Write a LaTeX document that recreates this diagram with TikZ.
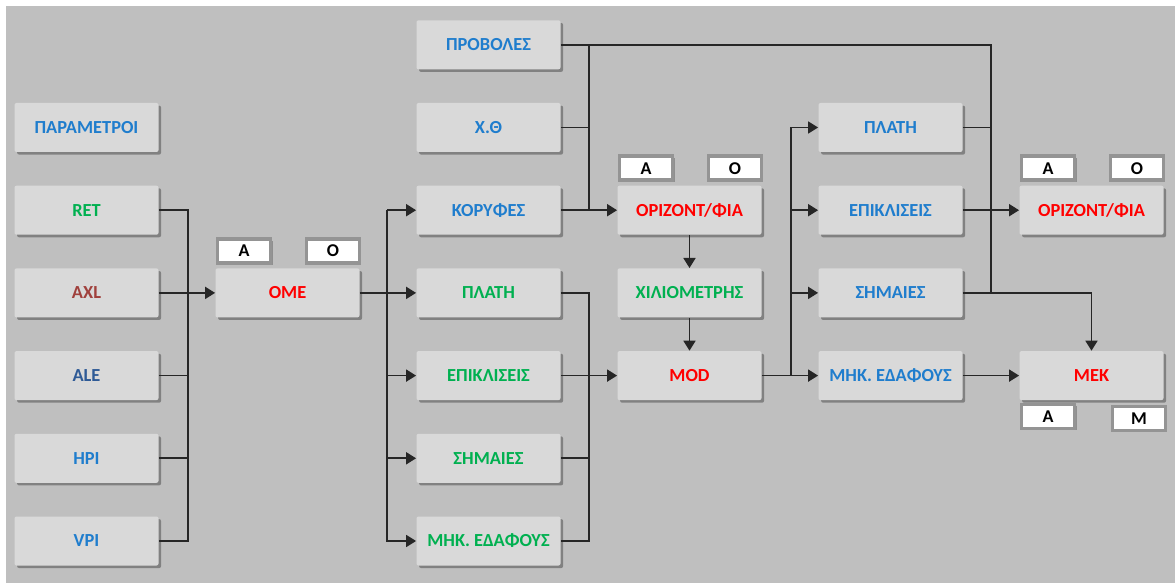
\documentclass[tikz,border=0pt]{standalone}
\usepackage{fontspec}
\setmainfont{Carlito}
\usetikzlibrary{calc,positioning,arrows.meta,shadows}
\definecolor{fond}{RGB}{191,191,191}
\definecolor{boite}{RGB}{217,217,217}
\definecolor{bleu}{RGB}{31,125,205}
\definecolor{vert}{RGB}{0,176,80}
\definecolor{rouge}{RGB}{255,0,0}
\definecolor{brique}{RGB}{160,64,60}
\definecolor{marine}{RGB}{46,90,150}

\begin{document}
\begin{tikzpicture}[x=1pt,y=1pt,node distance=41.35pt]
        \tikzstyle{module} = [rectangle, rounded corners=1pt, minimum width=72pt, minimum height=24.5pt, text centered, fill=boite, font=\fontsize{9.2}{10}\selectfont\bfseries, drop shadow={shadow xshift=1.3pt, shadow yshift=-1.3pt, fill=black, opacity=0.32}]
        \tikzstyle{tag} = [rectangle, minimum width=26.5pt, minimum height=12pt, inner sep=0pt, fill=white, draw=black!42, line width=1.8pt, font=\fontsize{9}{10}\selectfont\bfseries, drop shadow={shadow xshift=1pt, shadow yshift=-1pt, fill=black, opacity=0.25}]
        \tikzstyle{ligne} = [line width=0.9pt, draw=black!85]
        \tikzstyle{fleche} = [ligne, -{Triangle[length=5pt,width=6pt]}]
        \useasboundingbox (0,0) rectangle (587.5,-291.5);
        \fill[white] (0,0) rectangle (587.5,-291.5);
        \fill[fond] (3,-3) rectangle (587.5,-291.5);
        \node (parametroi) [module, text=bleu] at (43.25,-63.75) {ΠΑΡΑΜΕΤΡΟΙ};
        \node (ret) [module, text=vert, below of=parametroi] {RET};
        \node (axl) [module, text=brique, below of=ret] {AXL};
        \node (ale) [module, text=marine, below of=axl] {ALE};
        \node (hpi) [module, text=bleu, below of=ale] {HPI};
        \node (vpi) [module, text=bleu, below of=hpi] {VPI};
        \node (ome) [module, text=rouge, right of=axl, xshift=59.15pt] {OME};
        \node (plath_a) [module, text=vert, right of=ome, xshift=59.15pt] {ΠΛΑΤΗ};
        \node (koryfes) [module, text=bleu, above of=plath_a] {ΚΟΡΥΦΕΣ};
        \node (xth) [module, text=bleu, above of=koryfes] {Χ.Θ};
        \node (provoles) [module, text=bleu, above of=xth] {ΠΡΟΒΟΛΕΣ};
        \node (epikliseis_a) [module, text=vert, below of=plath_a] {ΕΠΙΚΛΙΣΕΙΣ};
        \node (simaies_a) [module, text=vert, below of=epikliseis_a] {ΣΗΜΑΙΕΣ};
        \node (mhk_a) [module, text=vert, below of=simaies_a] {ΜΗΚ. ΕΔΑΦΟΥΣ};
        \node (orizont_a) [module, text=rouge, right of=koryfes, xshift=59.15pt] {ΟΡΙΖΟΝΤ/ΦΙΑ};
        \node (xiliometris) [module, text=vert, below of=orizont_a] {ΧΙΛΙΟΜΕΤΡΗΣ};
        \node (mod) [module, text=rouge, below of=xiliometris] {MOD};
        \node (epikliseis_b) [module, text=bleu, right of=orizont_a, xshift=59.15pt] {ΕΠΙΚΛΙΣΕΙΣ};
        \node (plath_b) [module, text=bleu, above of=epikliseis_b] {ΠΛΑΤΗ};
        \node (simaies_b) [module, text=bleu, below of=epikliseis_b] {ΣΗΜΑΙΕΣ};
        \node (mhk_b) [module, text=bleu, below of=simaies_b] {ΜΗΚ. ΕΔΑΦΟΥΣ};
        \node (orizont_b) [module, text=rouge, right of=epikliseis_b, xshift=59.15pt] {ΟΡΙΖΟΝΤ/ΦΙΑ};
        \node (mek) [module, text=rouge, right of=mhk_b, xshift=59.15pt] {MEK};
        % petites etiquettes
        \node (ome_a) [tag] at ($(ome.north west)+(14.5,8.5)$) {A};
        \node (ome_o) [tag] at ($(ome.north east)+(-13.5,8.5)$) {O};
        \node (orizont_a_a) [tag] at ($(orizont_a.north west)+(14.5,8.5)$) {A};
        \node (orizont_a_o) [tag] at ($(orizont_a.north east)+(-13.5,8.5)$) {O};
        \node (orizont_b_a) [tag] at ($(orizont_b.north west)+(14.5,8.5)$) {A};
        \node (orizont_b_o) [tag] at ($(orizont_b.north east)+(-13.5,8.5)$) {O};
        \node (mek_a) [tag] at ($(mek.south west)+(14.5,-8)$) {A};
        \node (mek_m) [tag] at ($(mek.south east)+(-12.5,-9)$) {M};
        % entrees de OME
        \coordinate (bus_ome) at ($(ret.east)+(14.5,0)$);
        \draw[ligne] (ret.east) -- (bus_ome) |- (vpi.east);
        \draw[ligne] (ale.east) -- (ale.east -| bus_ome);
        \draw[ligne] (hpi.east) -- (hpi.east -| bus_ome);
        \draw[fleche] (axl.east) -- (ome.west);
        % sorties de OME
        \coordinate (bus_c3) at ($(koryfes.west)+(-14.5,0)$);
        \draw[fleche] (ome.east) -- (plath_a.west);
        \draw[fleche] (bus_c3) -- (koryfes.west);
        \draw[fleche] (bus_c3) |- (mhk_a.west);
        \draw[fleche] (epikliseis_a.west -| bus_c3) -- (epikliseis_a.west);
        \draw[fleche] (simaies_a.west -| bus_c3) -- (simaies_a.west);
        % vers ORIZONT/FIA
        \coordinate (bus_prov) at ($(provoles.east)+(14,0)$);
        \coordinate (bus_right) at ($(plath_b.east)+(14,0)$);
        \draw[ligne] (provoles.east) -| (bus_right |- simaies_b.east);
        \draw[ligne] (bus_prov) -- (bus_prov |- koryfes.east);
        \draw[ligne] (xth.east) -- (xth.east -| bus_prov);
        \draw[fleche] (koryfes.east) -- (orizont_a.west);
        \draw[fleche] (orizont_a) -- (xiliometris);
        \draw[fleche] (xiliometris) -- (mod);
        % vers MOD
        \coordinate (bus_mod) at ($(plath_a.east)+(14,0)$);
        \draw[ligne] (plath_a.east) -- (bus_mod) |- (mhk_a.east);
        \draw[ligne] (simaies_a.east) -- (simaies_a.east -| bus_mod);
        \draw[fleche] (epikliseis_a.east) -- (mod.west);
        % sorties de MOD
        \coordinate (bus_c5) at ($(mod.east)+(14.5,0)$);
        \draw[fleche] (mod.east) -- (mhk_b.west);
        \draw[fleche] (bus_c5) |- (plath_b.west);
        \draw[fleche] (epikliseis_b.west -| bus_c5) -- (epikliseis_b.west);
        \draw[fleche] (simaies_b.west -| bus_c5) -- (simaies_b.west);
        \draw[ligne] (plath_b.east) -- (plath_b.east -| bus_right);
        \draw[fleche] (epikliseis_b.east) -- (orizont_b.west);
        \draw[fleche] (simaies_b.east) -| (mek.north);
        \draw[fleche] (mhk_b.east) -- (mek.west);
\end{tikzpicture}
\end{document}
